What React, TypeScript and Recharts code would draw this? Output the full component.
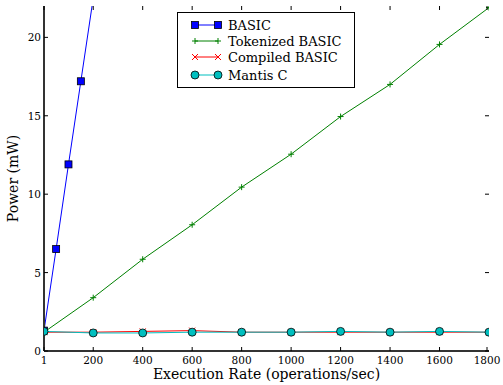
import { LineChart, Line, XAxis, YAxis } from "recharts"

const rates = [1, 200, 400, 600, 800, 1000, 1200, 1400, 1600, 1800]
const basicRates = [1, 50, 100, 150, 200]
const basicPower = [1.3, 6.5, 11.9, 17.2, 22.5]
const tokenizedPower = [1.2, 3.4, 5.85, 8.05, 10.45, 12.55, 14.95, 17.0, 19.55, 21.9]
const compiledPower = [1.2, 1.2, 1.25, 1.3, 1.2, 1.2, 1.2, 1.2, 1.2, 1.2]
const mantisPower = [1.25, 1.15, 1.15, 1.2, 1.2, 1.2, 1.25, 1.2, 1.25, 1.2]
const xTicks = [1, 200, 400, 600, 800, 1000, 1200, 1400, 1600, 1800]
const yTicks = [0, 5, 10, 15, 20]

const basicData = basicRates.map((rate, i) => ({ rate, power: basicPower[i] }))
const tokenizedData = rates.map((rate, i) => ({ rate, power: tokenizedPower[i] }))
const compiledData = rates.map((rate, i) => ({ rate, power: compiledPower[i] }))
const mantisData = rates.map((rate, i) => ({ rate, power: mantisPower[i] }))

const W = 503
const H = 385
const LEFT = 44
const RIGHT = 489
const TOP = 6
const BOTTOM = 351
const FONT = "'DejaVu Serif', 'Liberation Serif', serif"

const square = (p: any) => (
  <rect key={p.key ?? `${p.cx}`} x={p.cx - 3.5} y={p.cy - 3.5} width={7} height={7} fill="#0000ff" stroke="#000" strokeWidth={0.8} />
)
const plus = (p: any) => (
  <path key={p.key ?? `${p.cx}`} d={`M${p.cx - 3},${p.cy}H${p.cx + 3}M${p.cx},${p.cy - 3}V${p.cy + 3}`} stroke="#008000" strokeWidth={1} />
)
const cross = (p: any) => (
  <path key={p.key ?? `${p.cx}`} d={`M${p.cx - 3},${p.cy - 3}L${p.cx + 3},${p.cy + 3}M${p.cx - 3},${p.cy + 3}L${p.cx + 3},${p.cy - 3}`} stroke="#ff0000" strokeWidth={1} />
)
const circle = (p: any) => (
  <circle key={p.key ?? `${p.cx}`} cx={p.cx} cy={p.cy} r={4} fill="#00bfbf" stroke="#000" strokeWidth={0.8} />
)

const XTick = ({ x, payload }: any) => (
  <g>
    <line x1={x} x2={x} y1={BOTTOM} y2={BOTTOM - 4} stroke="#000" />
    <line x1={x} x2={x} y1={TOP} y2={TOP + 4} stroke="#000" />
    <text x={x} y={BOTTOM + 13} textAnchor="middle" fontSize={10.5} fontFamily={FONT} fill="#000">
      {payload.value}
    </text>
  </g>
)

const YTick = ({ y, payload }: any) => (
  <g>
    <line x1={LEFT} x2={LEFT + 4} y1={y} y2={y} stroke="#000" />
    <line x1={RIGHT} x2={RIGHT - 4} y1={y} y2={y} stroke="#000" />
    <text x={LEFT - 3} y={y + 4} textAnchor="end" fontSize={10.5} fontFamily={FONT} fill="#000">
      {payload.value}
    </text>
  </g>
)

const legendItems = [
  { name: "BASIC", color: "#0000ff", marker: square, row: 13 },
  { name: "Tokenized BASIC", color: "#008000", marker: plus, row: 29 },
  { name: "Compiled BASIC", color: "#ff0000", marker: cross, row: 45 },
  { name: "Mantis C", color: "#00bfbf", marker: circle, row: 63 },
]

const LegendBox = () => (
  <svg width={178} height={76} style={{ position: "absolute", left: 177, top: 12 }}>
    <rect x={0.5} y={0.5} width={177} height={75} fill="#fff" stroke="#000" />
    {legendItems.map((item) => (
      <g key={item.name}>
        <line x1={18} x2={41} y1={item.row} y2={item.row} stroke={item.color} />
        {item.marker({ cx: 18, cy: item.row, key: "a" })}
        {item.marker({ cx: 41, cy: item.row, key: "b" })}
        <text x={51} y={item.row + 5} fontSize={13} fontFamily={FONT} fill="#000">
          {item.name}
        </text>
      </g>
    ))}
  </svg>
)

export default function App() {
  return (
    <div style={{ position: "absolute", left: 0, top: 0, width: W, height: H, background: "#fff", fontFamily: FONT }}>
      <LineChart width={W} height={H} margin={{ top: TOP, right: W - RIGHT, bottom: 0, left: 0 }}>
        <XAxis
          dataKey="rate"
          type="number"
          domain={[1, 1800]}
          ticks={xTicks}
          height={H - BOTTOM}
          tick={<XTick />}
          tickLine={false}
          axisLine={{ stroke: "#333", strokeWidth: 2 }}
          allowDataOverflow
          label={{ content: () => <text x={(LEFT + RIGHT) / 2} y={379} textAnchor="middle" fontSize={14} fontFamily={FONT} fill="#000">Execution Rate (operations/sec)</text> }}
        />
        <YAxis
          type="number"
          domain={[0, 22]}
          ticks={yTicks}
          width={LEFT}
          tick={<YTick />}
          tickLine={false}
          axisLine={{ stroke: "#333", strokeWidth: 2 }}
          allowDataOverflow
          label={{ content: () => <text x={0} y={0} transform={`translate(18 ${(TOP + BOTTOM) / 2}) rotate(-90)`} textAnchor="middle" fontSize={14} fontFamily={FONT} fill="#000">Power (mW)</text> }}
        />
        <XAxis xAxisId="top" orientation="top" type="number" domain={[1, 1800]} height={0} tick={false} tickLine={false} axisLine={{ stroke: "#000" }} />
        <YAxis yAxisId="right" orientation="right" type="number" domain={[0, 22]} width={0} tick={false} tickLine={false} axisLine={{ stroke: "#000" }} />
        <Line data={basicData} dataKey="power" stroke="#0000ff" strokeWidth={1} dot={square} isAnimationActive={false} />
        <Line data={tokenizedData} dataKey="power" stroke="#008000" strokeWidth={1} dot={plus} isAnimationActive={false} />
        <Line data={compiledData} dataKey="power" stroke="#ff0000" strokeWidth={1} dot={cross} isAnimationActive={false} />
        <Line data={mantisData} dataKey="power" stroke="#00bfbf" strokeWidth={1} dot={circle} isAnimationActive={false} />
      </LineChart>
      <LegendBox />
    </div>
  )
}
